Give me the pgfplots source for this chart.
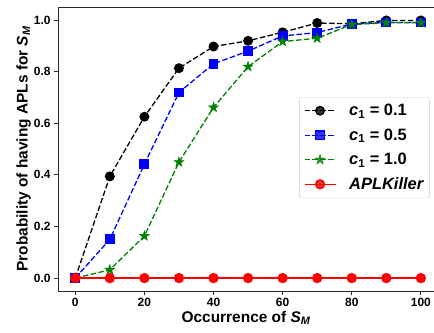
\documentclass[border=0pt]{standalone}
\usepackage{fontspec}
\setmainfont{Liberation Sans}
\usepackage{pgfplots}
\pgfplotsset{compat=1.18}
\definecolor{mgreen}{RGB}{0,128,0}
\pgfdeclareplotmark{fstar}{%
  \pgfpathmoveto{\pgfpointpolar{90}{\pgfplotmarksize}}%
  \pgfpathlineto{\pgfpointpolar{126}{0.382\pgfplotmarksize}}%
  \pgfpathlineto{\pgfpointpolar{162}{\pgfplotmarksize}}%
  \pgfpathlineto{\pgfpointpolar{198}{0.382\pgfplotmarksize}}%
  \pgfpathlineto{\pgfpointpolar{234}{\pgfplotmarksize}}%
  \pgfpathlineto{\pgfpointpolar{270}{0.382\pgfplotmarksize}}%
  \pgfpathlineto{\pgfpointpolar{306}{\pgfplotmarksize}}%
  \pgfpathlineto{\pgfpointpolar{342}{0.382\pgfplotmarksize}}%
  \pgfpathlineto{\pgfpointpolar{18}{\pgfplotmarksize}}%
  \pgfpathlineto{\pgfpointpolar{54}{0.382\pgfplotmarksize}}%
  \pgfpathclose
  \pgfusepathqfillstroke}
\begin{document}
\begin{tikzpicture}
\begin{axis}[
  name=ax,
  scale only axis,
  width=376bp, height=284bp,
  xmin=-5, xmax=103.8, ymin=-0.05, ymax=1.05,
  axis x line=box, axis y line=left,
  axis line style={black!85, line width=0.8bp, -},
  tick align=outside,
  major tick length=4bp,
  tick style={black!85, line width=0.8bp},
  xtick={0,20,40,60,80,100},
  ytick={0,0.2,0.4,0.6,0.8,1.0},
  xtick pos=bottom, ytick pos=left,
  yticklabel style={/pgf/number format/fixed,/pgf/number format/fixed zerofill,/pgf/number format/precision=1},
  /pgf/number format/assume math mode=true,
  tick label style={font=\fontsize{12}{14}\selectfont\bfseries},
  xlabel={\bfseries Occurrence of {\itshape S}\textsubscript{\itshape M}},
  ylabel={\bfseries Probability of having APLs for {\itshape S}\textsubscript{\itshape M}},
  label style={font=\fontsize{15.5}{18}\selectfont},
  xlabel style={yshift=3bp},
  ylabel style={yshift=-4bp},
  legend style={
    at={(0.989,0.683)}, anchor=north east,
    draw=black!20, rounded corners=2bp, fill=white, fill opacity=0.8, text opacity=1,
    font=\fontsize{16.5}{19}\selectfont\bfseries,
    row sep=7.5bp, inner xsep=4.5bp, inner ysep=5bp,
    /tikz/every odd column/.append style={column sep=11bp},
  },
  legend cell align=left,
  legend image code/.code={\draw[mark repeat=2,mark phase=2,#1] plot coordinates {(0bp,0bp) (15.5bp,0bp) (31bp,0bp)};},
  every axis plot/.append style={line width=1.3bp},
]
\addplot[black, dash pattern=on 5.5bp off 2.4bp, mark=*, mark size=4.3bp, mark options={solid}]
 coordinates {(0,0)(10,0.394)(20,0.625)(30,0.813)(40,0.897)(50,0.919)(60,0.952)(70,0.988)(80,0.985)(90,0.998)(100,0.998)};
\addlegendentry{{\itshape c}\textsubscript{1} = 0.1}
\addplot[blue, dash pattern=on 5.5bp off 2.4bp, mark=square*, mark size=4.3bp, mark options={solid}]
 coordinates {(0,0)(10,0.150)(20,0.441)(30,0.719)(40,0.830)(50,0.879)(60,0.938)(70,0.951)(80,0.984)(90,0.990)(100,0.990)};
\addlegendentry{{\itshape c}\textsubscript{1} = 0.5}
\addplot[mgreen, dash pattern=on 5.5bp off 2.4bp, mark=fstar, mark size=5.2bp, mark options={solid, line width=0.5bp}]
 coordinates {(0,0)(10,0.032)(20,0.163)(30,0.449)(40,0.661)(50,0.819)(60,0.916)(70,0.929)(80,0.982)(90,0.989)(100,0.989)};
\addlegendentry{{\itshape c}\textsubscript{1} = 1.0}
\addplot[red, solid, mark=*, mark size=4.5bp]
 coordinates {(0,0)(10,0)(20,0)(30,0)(40,0)(50,0)(60,0)(70,0)(80,0)(90,0)(100,0)};
\addlegendentry{\itshape APLKiller}
\end{axis}
\pgfresetboundingbox
\path[use as bounding box] ([xshift=-58bp,yshift=-42bp]ax.south west) rectangle ([yshift=7bp]ax.north east);
\end{tikzpicture}
\end{document}
